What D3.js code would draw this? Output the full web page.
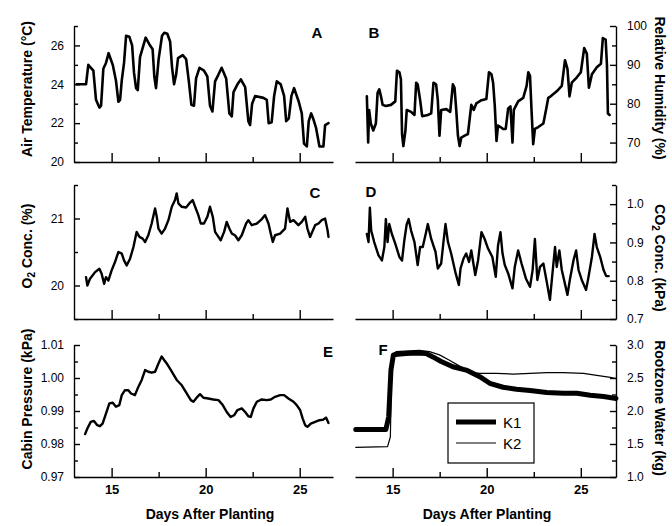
<!DOCTYPE html>
<html>
<head>
<meta charset="utf-8">
<script src="https://cdn.jsdelivr.net/npm/d3@7"></script>
<style>
  body { margin: 0; background: #fff; }
  svg { display: block; font-family: 'Liberation Sans', Arial, sans-serif; }
  .axis path, .axis line { stroke: #000; stroke-width: 1.4; }
  .axis text { fill: #000; font-size: 12px; }
  .xaxis text { font-size: 13px; font-weight: bold; }
  .title { font-size: 14px; font-weight: bold; }
  .letter { font-size: 15px; font-weight: bold; }
  .series { fill: none; stroke: #000; stroke-linejoin: round; stroke-linecap: round; }
</style>
</head>
<body>
<script>
// [day after planting, value]
const airTemp = [[13.14,24.0],[13.64,24.0],[13.76,25.0],[13.85,24.9],[14.03,24.7],[14.17,23.2],[14.35,22.8],[14.44,22.9],[14.56,24.8],[14.70,25.1],[14.84,25.6],[15.06,25.0],[15.23,24.2],[15.36,23.1],[15.45,23.2],[15.54,24.2],[15.66,25.1],[15.77,26.5],[15.94,26.45],[16.09,26.0],[16.19,24.6],[16.30,23.8],[16.39,23.7],[16.51,25.4],[16.69,26.0],[16.81,26.4],[17.01,26.05],[17.18,25.8],[17.27,24.4],[17.36,23.8],[17.50,25.3],[17.68,26.5],[17.80,26.65],[17.96,26.6],[18.11,26.2],[18.21,24.9],[18.32,24.0],[18.43,24.5],[18.53,25.35],[18.78,25.5],[18.96,25.3],[19.10,24.2],[19.24,22.95],[19.38,22.9],[19.49,24.3],[19.67,24.85],[19.91,24.7],[20.09,24.4],[20.23,22.9],[20.36,22.6],[20.50,24.15],[20.68,24.5],[20.85,24.85],[21.09,24.3],[21.26,22.5],[21.39,22.35],[21.48,23.6],[21.69,24.0],[21.87,24.25],[22.10,23.85],[22.27,22.1],[22.36,21.9],[22.47,23.0],[22.63,23.4],[23.07,23.3],[23.25,23.2],[23.35,22.0],[23.51,22.05],[23.64,23.4],[23.78,24.15],[23.99,24.0],[24.17,23.4],[24.28,22.1],[24.42,22.25],[24.56,23.4],[24.70,23.8],[24.95,23.1],[25.11,22.5],[25.23,20.95],[25.38,20.8],[25.48,22.1],[25.61,22.5],[25.73,22.2],[25.87,21.75],[26.05,20.8],[26.26,20.8],[26.35,21.9],[26.53,22.0]]

const humidity = [[13.63,81.9],[13.70,70.0],[13.75,78.4],[13.84,74.9],[13.97,73.1],[14.11,74.9],[14.20,82.8],[14.29,83.7],[14.38,81.9],[14.47,79.7],[14.64,79.4],[14.91,79.7],[15.14,80.6],[15.23,88.5],[15.36,88.1],[15.44,86.3],[15.50,72.2],[15.57,69.1],[15.68,73.1],[15.75,78.4],[15.98,77.9],[16.16,77.1],[16.25,85.4],[16.33,85.0],[16.46,81.0],[16.57,76.8],[16.87,77.1],[17.05,77.5],[17.17,85.4],[17.31,85.0],[17.40,81.0],[17.49,71.8],[17.58,78.4],[17.85,78.6],[18.06,77.9],[18.20,85.0],[18.29,84.1],[18.38,78.4],[18.47,71.8],[18.56,69.1],[18.65,71.3],[18.83,71.8],[19.00,72.2],[19.18,79.7],[19.31,78.4],[19.45,80.1],[19.72,80.9],[19.98,81.2],[20.12,88.1],[20.25,87.6],[20.34,85.4],[20.43,79.3],[20.52,70.4],[20.60,74.4],[20.73,74.0],[20.87,73.5],[21.01,73.5],[21.14,78.8],[21.26,79.3],[21.37,70.0],[21.44,78.4],[21.67,80.6],[21.94,81.5],[22.12,84.6],[22.21,88.1],[22.30,87.2],[22.38,78.4],[22.47,69.6],[22.56,73.5],[22.74,74.0],[23.01,74.9],[23.15,78.4],[23.27,81.5],[23.40,81.9],[23.72,83.2],[23.99,84.6],[24.16,91.2],[24.29,89.0],[24.40,81.9],[24.52,85.4],[24.79,86.8],[25.00,88.1],[25.18,94.3],[25.32,92.9],[25.43,84.1],[25.59,87.6],[25.85,89.4],[26.07,90.3],[26.17,96.9],[26.32,96.5],[26.39,89.9],[26.44,77.5],[26.53,77.1]]

const oxygen = [[13.64,20.125],[13.71,20.0],[13.85,20.1],[14.12,20.2],[14.35,20.25],[14.47,20.175],[14.60,20.025],[14.70,20.125],[14.83,20.075],[15.00,20.225],[15.18,20.35],[15.36,20.5],[15.54,20.475],[15.66,20.375],[15.80,20.3],[15.98,20.4],[16.16,20.575],[16.33,20.8],[16.48,20.725],[16.65,20.7],[16.78,20.65],[16.95,20.75],[17.13,20.925],[17.31,21.15],[17.40,21.025],[17.49,20.85],[17.66,20.775],[17.84,20.85],[18.02,20.975],[18.20,21.175],[18.37,21.275],[18.46,21.375],[18.55,21.225],[18.73,21.175],[18.96,21.165],[19.13,21.225],[19.31,21.275],[19.44,21.175],[19.61,21.05],[19.74,20.925],[19.91,20.925],[20.09,21.025],[20.23,21.175],[20.38,21.025],[20.50,20.8],[20.68,20.725],[20.80,20.675],[20.98,20.8],[21.12,20.95],[21.26,20.85],[21.39,20.775],[21.56,20.75],[21.74,20.675],[21.92,20.75],[22.15,20.925],[22.27,20.975],[22.45,20.9],[22.72,20.925],[22.93,20.975],[23.16,21.05],[23.34,20.925],[23.46,20.775],[23.57,20.65],[23.69,20.75],[23.96,20.775],[24.22,20.85],[24.35,21.15],[24.49,20.95],[24.67,20.975],[24.93,20.9],[25.11,20.95],[25.29,21.025],[25.41,20.85],[25.55,20.725],[25.82,20.9],[26.00,20.925],[26.17,20.975],[26.35,21.0],[26.48,20.825],[26.53,20.725]]

const carbonDioxide = [[13.63,0.922],[13.72,0.901],[13.79,0.991],[13.86,0.931],[14.02,0.901],[14.25,0.866],[14.43,0.853],[14.56,0.888],[14.64,0.961],[14.73,0.901],[14.82,0.948],[14.96,0.922],[15.14,0.897],[15.36,0.862],[15.50,0.853],[15.62,0.905],[15.75,0.948],[15.85,0.961],[15.98,0.931],[16.16,0.901],[16.33,0.841],[16.46,0.888],[16.60,0.888],[16.78,0.927],[16.87,0.948],[17.05,0.909],[17.28,0.875],[17.40,0.832],[17.58,0.845],[17.70,0.901],[17.81,0.948],[17.94,0.901],[18.11,0.871],[18.35,0.819],[18.52,0.789],[18.61,0.832],[18.77,0.858],[18.91,0.871],[19.06,0.849],[19.18,0.879],[19.39,0.815],[19.54,0.853],[19.72,0.927],[19.89,0.909],[20.07,0.884],[20.30,0.862],[20.48,0.810],[20.60,0.892],[20.73,0.927],[20.84,0.871],[20.96,0.841],[21.14,0.819],[21.37,0.780],[21.49,0.836],[21.67,0.879],[21.85,0.845],[22.08,0.806],[22.30,0.784],[22.44,0.828],[22.56,0.909],[22.69,0.802],[22.83,0.836],[23.01,0.845],[23.19,0.797],[23.36,0.750],[23.51,0.828],[23.63,0.888],[23.72,0.836],[23.86,0.879],[23.99,0.828],[24.29,0.763],[24.43,0.806],[24.61,0.853],[24.75,0.879],[24.88,0.828],[25.05,0.802],[25.28,0.776],[25.41,0.810],[25.59,0.862],[25.73,0.922],[25.85,0.888],[26.03,0.862],[26.21,0.828],[26.35,0.812],[26.48,0.812]]

const pressure = [[13.59,0.9830],[13.71,0.9847],[13.89,0.9867],[14.06,0.9870],[14.24,0.9857],[14.38,0.9854],[14.52,0.9862],[14.70,0.9892],[14.88,0.9923],[15.06,0.9925],[15.23,0.9913],[15.41,0.9918],[15.54,0.9948],[15.71,0.9963],[15.89,0.9963],[16.03,0.9953],[16.24,0.9948],[16.42,0.9973],[16.60,0.9994],[16.78,1.0024],[16.95,1.0019],[17.13,1.0016],[17.31,1.0019],[17.49,1.0044],[17.66,1.0065],[17.80,1.0054],[17.93,1.0044],[18.20,1.0019],[18.46,0.9994],[18.73,0.9978],[19.00,0.9953],[19.21,0.9933],[19.35,0.9928],[19.56,0.9943],[19.70,0.9951],[19.88,0.9940],[20.14,0.9938],[20.41,0.9935],[20.68,0.9933],[20.91,0.9918],[21.12,0.9897],[21.33,0.9882],[21.51,0.9887],[21.69,0.9903],[21.92,0.9908],[22.10,0.9897],[22.27,0.9884],[22.40,0.9882],[22.54,0.9908],[22.72,0.9928],[22.98,0.9935],[23.25,0.9933],[23.46,0.9935],[23.69,0.9943],[23.96,0.9948],[24.17,0.9948],[24.40,0.9938],[24.67,0.9928],[24.84,0.9918],[25.02,0.9903],[25.16,0.9877],[25.29,0.9857],[25.41,0.9852],[25.59,0.9862],[25.82,0.9867],[26.05,0.9872],[26.26,0.9874],[26.40,0.9880],[26.53,0.9864]]

const rootzoneK1 = [[13.04,1.72],[14.64,1.72],[14.79,1.91],[14.91,2.62],[15.04,2.85],[15.27,2.86],[15.71,2.87],[16.25,2.88],[16.78,2.87],[17.14,2.82],[17.58,2.75],[18.20,2.67],[18.91,2.62],[19.63,2.52],[20.16,2.42],[20.87,2.36],[21.58,2.33],[22.30,2.31],[23.19,2.28],[24.07,2.27],[24.79,2.27],[25.50,2.24],[26.21,2.22],[26.87,2.19]]

const rootzoneK2 = [[13.04,1.45],[14.73,1.46],[14.88,1.61],[14.96,2.85],[15.18,2.90],[15.89,2.91],[16.42,2.92],[16.96,2.90],[17.49,2.85],[18.02,2.77],[18.56,2.68],[19.09,2.59],[19.63,2.57],[20.52,2.57],[21.41,2.56],[22.30,2.57],[23.19,2.58],[24.07,2.58],[25.14,2.57],[25.85,2.54],[26.57,2.51],[26.87,2.49]]

// tick values
const dayTicks = [15, 20, 25]
const dayMinor = [17.5, 22.5]
const tempTicks = [20, 22, 24, 26], tempMinor = [21, 23, 25, 27]
const rhTicks = [70, 80, 90, 100], rhMinor = [65, 75, 85, 95]
const o2Ticks = [20, 21], o2Minor = [19.5, 20.5, 21.5]
const co2Ticks = [0.7, 0.8, 0.9, 1.0], co2Minor = [0.75, 0.85, 0.95, 1.05]
const presTicks = [0.97, 0.98, 0.99, 1.00, 1.01], presMinor = [0.975, 0.985, 0.995, 1.005]
const waterTicks = [1.0, 1.5, 2.0, 2.5, 3.0], waterMinor = [1.25, 1.75, 2.25, 2.75]

const width = 672
const height = 526

const cols = {
  left: { x0: 74, x1: 333, domain: [13, 26.77] },
  right: { x0: 355, x1: 616, domain: [13, 26.87] }
}
const rows = [[26, 162], [185, 319], [345, 477]]

const svg = d3.select('body')
  .append('svg')
  .attr('width', width)
  .attr('height', height)

function drawPanel(p) {
  const col = cols[p.side]
  const [top, bottom] = rows[p.row]

  const xScale = d3.scaleLinear().domain(col.domain).range([col.x0, col.x1])
  const yScale = d3.scaleLinear().domain(p.domain).range([bottom, top])

  // bottom axis, ticks pointing up
  svg.append('g')
    .attr('class', 'axis xaxis')
    .attr('transform', `translate(0, ${bottom})`)
    .call(d3.axisBottom(xScale).tickValues(dayTicks).tickSizeInner(-9).tickSizeOuter(0).tickPadding(8)
      .tickFormat(p.row === 2 ? d3.format('d') : ''))
  svg.append('g')
    .attr('class', 'axis')
    .attr('transform', `translate(0, ${bottom})`)
    .call(d3.axisBottom(xScale).tickValues(dayMinor).tickSizeInner(-5).tickSizeOuter(0).tickFormat(''))
    .select('.domain').remove()

  // y axis, ticks pointing inward
  const yPos = p.side === 'left' ? col.x0 : col.x1
  const axisFn = p.side === 'left' ? d3.axisLeft : d3.axisRight
  svg.append('g')
    .attr('class', 'axis')
    .attr('transform', `translate(${yPos}, 0)`)
    .call(axisFn(yScale).tickValues(p.major).tickSizeInner(-6).tickSizeOuter(0).tickPadding(p.side === 'left' ? 10 : 11)
      .tickFormat(d3.format(p.fmt)))
  svg.append('g')
    .attr('class', 'axis')
    .attr('transform', `translate(${yPos}, 0)`)
    .call(axisFn(yScale).tickValues(p.minor).tickSizeInner(-4).tickSizeOuter(0).tickFormat(''))
    .select('.domain').remove()

  // data lines
  const line = d3.line()
    .x(d => xScale(d[0]))
    .y(d => yScale(d[1]))

  p.series.forEach(s => {
    svg.append('path')
      .attr('class', 'series')
      .datum(s.data)
      .attr('stroke-width', s.w)
      .attr('d', line)
  })

  // panel letter
  svg.append('text')
    .attr('class', 'letter')
    .attr('text-anchor', 'middle')
    .attr('x', p.letter[0])
    .attr('y', p.letter[1])
    .text(p.id)

  // axis title
  const tx = p.side === 'left' ? 27 : 660
  const rot = p.side === 'left' ? -90 : 90
  const title = svg.append('text')
    .attr('class', 'title')
    .attr('text-anchor', 'middle')
    .attr('dominant-baseline', 'central')
    .attr('transform', `translate(${tx}, ${p.titleY}) rotate(${rot})`)
  p.title.forEach(part => {
    const t = title.append('tspan').text(part.t)
    if (part.sub) t.attr('font-size', '10px').attr('dy', 4)
    if (part.after) t.attr('dy', -4)
  })
}

const panels = [
  { id: 'A', side: 'left', row: 0, domain: [20, 27], major: tempTicks, minor: tempMinor, fmt: 'd',
    series: [{ data: airTemp, w: 2.6 }], letter: [317, 38], titleY: 89,
    title: [{ t: 'Air Temperature (°C)' }] },
  { id: 'B', side: 'right', row: 0, domain: [65, 100], major: rhTicks, minor: rhMinor, fmt: 'd',
    series: [{ data: humidity, w: 2.6 }], letter: [374, 38], titleY: 88,
    title: [{ t: 'Relative Humidity (%)' }] },
  { id: 'C', side: 'left', row: 1, domain: [19.5, 21.5], major: o2Ticks, minor: o2Minor, fmt: 'd',
    series: [{ data: oxygen, w: 2.4 }], letter: [315, 198], titleY: 246,
    title: [{ t: 'O' }, { t: '2', sub: true }, { t: ' Conc. (%)', after: true }] },
  { id: 'D', side: 'right', row: 1, domain: [0.7, 1.05], major: co2Ticks, minor: co2Minor, fmt: '.1f',
    series: [{ data: carbonDioxide, w: 2.4 }], letter: [371, 197], titleY: 258,
    title: [{ t: 'CO' }, { t: '2', sub: true }, { t: ' Conc. (kPa)', after: true }] },
  { id: 'E', side: 'left', row: 2, domain: [0.97, 1.01], major: presTicks, minor: presMinor, fmt: '.2f',
    series: [{ data: pressure, w: 2.4 }], letter: [328, 357], titleY: 399,
    title: [{ t: 'Cabin Pressure (kPa)' }] },
  { id: 'F', side: 'right', row: 2, domain: [1.0, 3.0], major: waterTicks, minor: waterMinor, fmt: '.1f',
    series: [{ data: rootzoneK1, w: 5 }, { data: rootzoneK2, w: 1.2 }], letter: [383, 355], titleY: 408,
    title: [{ t: 'Rootzone Water (kg)' }] }
]

panels.forEach(drawPanel)

// x axis titles
const xTitles = [210, 487]
xTitles.forEach(cx => {
  svg.append('text')
    .attr('class', 'title')
    .attr('text-anchor', 'middle')
    .attr('x', cx)
    .attr('y', 519)
    .text('Days After Planting')
})

// legend for panel F
const legend = svg.append('g').attr('transform', 'translate(448, 403)')
legend.append('rect')
  .attr('width', 86)
  .attr('height', 60)
  .attr('fill', '#fff')
  .attr('stroke', '#000')
  .attr('stroke-width', 1.2)
const legendItems = [{ label: 'K1', w: 5, y: 19 }, { label: 'K2', w: 1.2, y: 40 }]
legendItems.forEach(item => {
  legend.append('line')
    .attr('x1', 8).attr('x2', 48)
    .attr('y1', item.y).attr('y2', item.y)
    .attr('stroke', '#000')
    .attr('stroke-width', item.w)
  legend.append('text')
    .attr('x', 55)
    .attr('y', item.y)
    .attr('dominant-baseline', 'central')
    .attr('font-size', '15px')
    .text(item.label)
})
</script>
</body>
</html>
